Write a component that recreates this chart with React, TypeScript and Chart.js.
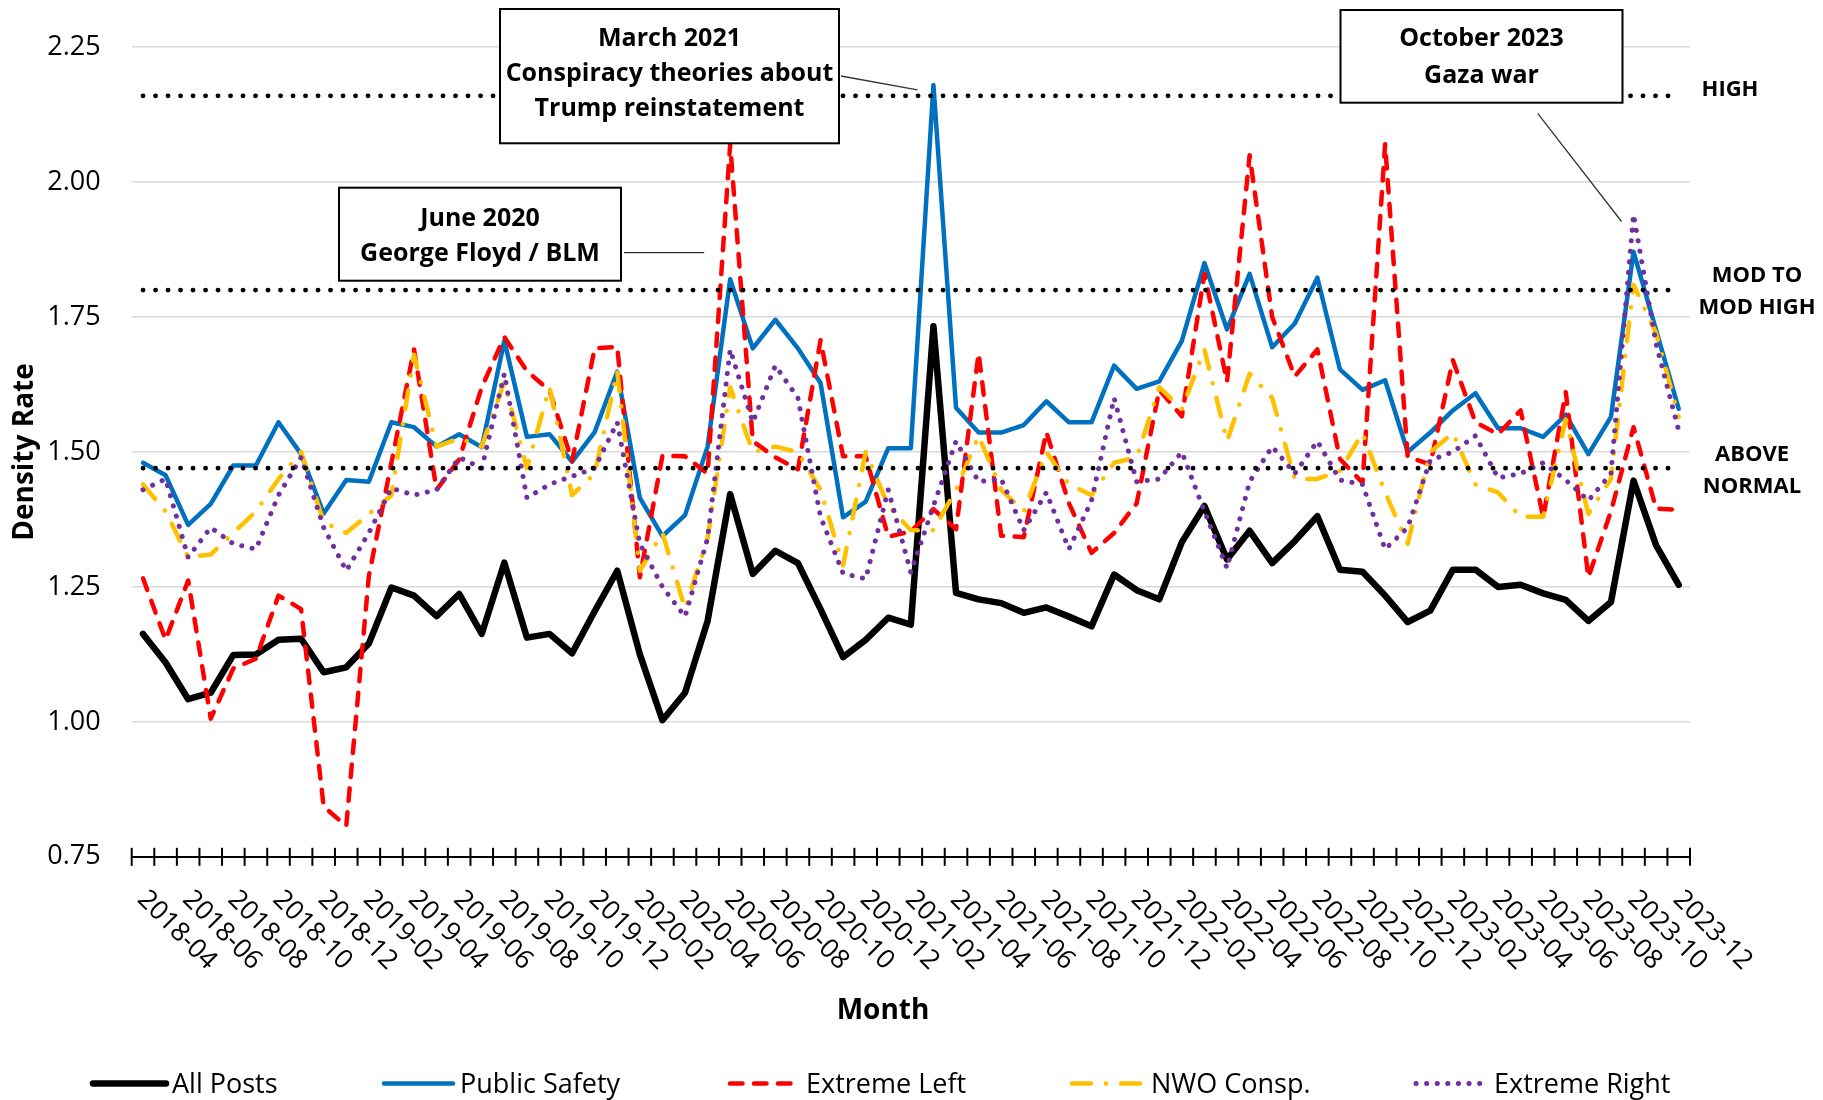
import { useEffect, useRef } from 'react';
import { Chart, registerables } from 'chart.js';

Chart.register(...registerables);

const FONT = "'Open Sans', 'Liberation Sans', sans-serif";

const months = [
  '2018-04', '2018-05', '2018-06', '2018-07', '2018-08', '2018-09', '2018-10', '2018-11', '2018-12',
  '2019-01', '2019-02', '2019-03', '2019-04', '2019-05', '2019-06', '2019-07', '2019-08', '2019-09', '2019-10', '2019-11', '2019-12',
  '2020-01', '2020-02', '2020-03', '2020-04', '2020-05', '2020-06', '2020-07', '2020-08', '2020-09', '2020-10', '2020-11', '2020-12',
  '2021-01', '2021-02', '2021-03', '2021-04', '2021-05', '2021-06', '2021-07', '2021-08', '2021-09', '2021-10', '2021-11', '2021-12',
  '2022-01', '2022-02', '2022-03', '2022-04', '2022-05', '2022-06', '2022-07', '2022-08', '2022-09', '2022-10', '2022-11', '2022-12',
  '2023-01', '2023-02', '2023-03', '2023-04', '2023-05', '2023-06', '2023-07', '2023-08', '2023-09', '2023-10', '2023-11', '2023-12',
];

const allPosts = [
  1.163, 1.11, 1.042, 1.054, 1.124, 1.125, 1.152, 1.154, 1.092, 1.101,
  1.145, 1.249, 1.234, 1.196, 1.237, 1.163, 1.295, 1.156, 1.163, 1.127,
  1.205, 1.28, 1.125, 1.003, 1.054, 1.187, 1.422, 1.274, 1.317, 1.294,
  1.209, 1.12, 1.152, 1.193, 1.18, 1.733, 1.239, 1.227, 1.22, 1.202,
  1.212, 1.195, 1.177, 1.273, 1.244, 1.227, 1.333, 1.4, 1.301, 1.354,
  1.294, 1.335, 1.381, 1.282, 1.278, 1.234, 1.185, 1.206, 1.282, 1.282,
  1.25, 1.254, 1.238, 1.226, 1.187, 1.222, 1.447, 1.327, 1.254,
];

const publicSafety = [
  1.48, 1.457, 1.365, 1.404, 1.475, 1.475, 1.555, 1.496, 1.386, 1.448,
  1.445, 1.555, 1.546, 1.51, 1.533, 1.509, 1.706, 1.528, 1.533, 1.482,
  1.537, 1.649, 1.415, 1.344, 1.383, 1.51, 1.82, 1.692, 1.745, 1.692,
  1.628, 1.379, 1.408, 1.507, 1.507, 2.18, 1.582, 1.536, 1.536, 1.55,
  1.594, 1.555, 1.555, 1.66, 1.617, 1.631, 1.706, 1.85, 1.727, 1.83,
  1.694, 1.738, 1.823, 1.653, 1.615, 1.633, 1.5, 1.536, 1.577, 1.609,
  1.544, 1.544, 1.528, 1.569, 1.496, 1.565, 1.871, 1.726, 1.58,
];

const extremeLeft = [
  1.266, 1.152, 1.262, 1.006, 1.099, 1.117, 1.234, 1.209, 0.843, 0.807,
  1.27, 1.48, 1.69, 1.43, 1.486, 1.62, 1.713, 1.65, 1.614, 1.483,
  1.692, 1.695, 1.268, 1.493, 1.492, 1.46, 2.07, 1.52, 1.49, 1.468,
  1.707, 1.492, 1.492, 1.343, 1.353, 1.394, 1.357, 1.683, 1.345, 1.342,
  1.537, 1.405, 1.313, 1.35, 1.405, 1.615, 1.566, 1.83, 1.63, 2.05,
  1.75, 1.64, 1.69, 1.487, 1.443, 2.07, 1.491, 1.477, 1.67, 1.555,
  1.533, 1.577, 1.379, 1.611, 1.268, 1.39, 1.546, 1.395, 1.393,
];

const nwoConsp = [
  1.44, 1.39, 1.305, 1.31, 1.35, 1.39, 1.45, 1.5, 1.37, 1.35,
  1.385, 1.42, 1.68, 1.51, 1.525, 1.51, 1.63, 1.47, 1.62, 1.42,
  1.46, 1.65, 1.28, 1.35, 1.21, 1.34, 1.62, 1.5, 1.51, 1.5,
  1.43, 1.29, 1.5, 1.4, 1.355, 1.355, 1.43, 1.53, 1.43, 1.39,
  1.5, 1.44, 1.42, 1.48, 1.49, 1.62, 1.58, 1.69, 1.52, 1.645,
  1.6, 1.45, 1.45, 1.465, 1.535, 1.425, 1.33, 1.5, 1.535, 1.44,
  1.425, 1.38, 1.38, 1.56, 1.385, 1.45, 1.81, 1.72, 1.565,
];

const extremeRight = [
  1.43, 1.45, 1.305, 1.36, 1.33, 1.32, 1.42, 1.49, 1.36, 1.28,
  1.35, 1.433, 1.42, 1.43, 1.49, 1.47, 1.645, 1.415, 1.44, 1.455,
  1.47, 1.555, 1.33, 1.25, 1.195, 1.34, 1.69, 1.555, 1.66, 1.6,
  1.38, 1.275, 1.265, 1.43, 1.277, 1.4, 1.52, 1.445, 1.45, 1.355,
  1.425, 1.32, 1.41, 1.6, 1.445, 1.45, 1.5, 1.39, 1.285, 1.445,
  1.51, 1.46, 1.52, 1.448, 1.44, 1.32, 1.36, 1.485, 1.5, 1.53,
  1.452, 1.46, 1.48, 1.448, 1.41, 1.46, 1.94, 1.7, 1.54,
];

const seriesNames = ['All Posts', 'Public Safety', 'Extreme Left', 'NWO Consp.', 'Extreme Right'];

const yMin = 0.75;
const yMax = 2.25;
const yStep = 0.25;

const thresholdValues = [2.16, 1.8, 1.47];
const thresholdLabels = [['HIGH'], ['MOD TO', 'MOD HIGH'], ['ABOVE', 'NORMAL']];

const annotationTexts = [
  ['March 2021', 'Conspiracy theories about', 'Trump reinstatement'],
  ['June 2020', 'George Floyd / BLM'],
  ['October 2023', 'Gaza war'],
];

function capText(ctx: CanvasRenderingContext2D, text: string, x: number, cy: number, size: number, weight: number, align: CanvasTextAlign) {
  ctx.font = `${weight} ${size}px ${FONT}`;
  ctx.textAlign = align;
  ctx.textBaseline = 'alphabetic';
  ctx.fillText(text, x, cy + size * 0.357);
}

const overlayPlugin = {
  id: 'overlay',
  afterDatasetsDraw(chart: any) {
    const { ctx, scales } = chart;
    const x = scales.x;
    const y = scales.y;
    ctx.save();
    ctx.strokeStyle = '#000';
    ctx.lineWidth = 4.8;
    ctx.lineCap = 'round';
    ctx.setLineDash([0.1, 12.4]);
    thresholdValues.forEach((v) => {
      const py = y.getPixelForValue(v);
      ctx.beginPath();
      ctx.moveTo(x.getPixelForValue(0), py);
      ctx.lineTo(x.getPixelForValue(months.length - 1), py);
      ctx.stroke();
    });
    ctx.restore();
  },
  afterDraw(chart: any) {
    const { ctx, chartArea, scales } = chart;
    const x = scales.x;
    const y = scales.y;
    const axisY = chartArea.bottom;
    ctx.save();
    ctx.fillStyle = '#000';

    // crossing tick marks on category boundaries
    ctx.strokeStyle = '#000';
    ctx.lineWidth = 2;
    ctx.setLineDash([]);
    for (let k = 0; k <= months.length; k++) {
      const px = x.getPixelForValue(k - 0.5);
      ctx.beginPath();
      ctx.moveTo(px, axisY - 9);
      ctx.lineTo(px, axisY + 9);
      ctx.stroke();
    }

    // rotated month labels
    const lblSize = 26.5;
    ctx.font = `400 ${lblSize}px ${FONT}`;
    months.forEach((m, i) => {
      if (i % 2 !== 0) return;
      ctx.save();
      ctx.translate(x.getPixelForValue(i), axisY + 37);
      ctx.rotate(Math.PI / 4);
      ctx.textAlign = 'left';
      ctx.textBaseline = 'alphabetic';
      ctx.fillText(m, 0, lblSize * 0.357);
      ctx.restore();
    });

    // axis titles
    ctx.save();
    ctx.translate(23.5, (chartArea.top + chartArea.bottom) / 2);
    ctx.rotate(-Math.PI / 2);
    capText(ctx, 'Density Rate', 0, 0, 28, 700, 'center');
    ctx.restore();
    capText(ctx, 'Month', 883, 1009, 28, 700, 'center');

    // threshold labels
    const labelX = [1730, 1757, 1752];
    thresholdValues.forEach((v, t) => {
      const py = y.getPixelForValue(v);
      const lines = thresholdLabels[t];
      if (lines.length === 1) {
        capText(ctx, lines[0], labelX[t], py - 7.5, 22, 700, 'center');
      } else {
        capText(ctx, lines[0], labelX[t], py - 15.5, 22, 700, 'center');
        capText(ctx, lines[1], labelX[t], py + 16.5, 22, 700, 'center');
      }
    });

    // annotation connectors
    ctx.strokeStyle = '#333';
    ctx.lineWidth = 1.3;
    const pMarch = { x: x.getPixelForValue(35), y: y.getPixelForValue(publicSafety[35]) };
    const pOct = { x: x.getPixelForValue(66), y: y.getPixelForValue(extremeRight[66]) };
    const pJune = { x: x.getPixelForValue(26), y: 252.7 };
    const lines: number[][] = [
      [841, 76, pMarch.x - 16, pMarch.y + 5],
      [624, 252.7, pJune.x - 26, pJune.y],
      [1537.7, 113.3, pOct.x - 12, pOct.y + 7],
    ];
    lines.forEach(([x1, y1, x2, y2]) => {
      ctx.beginPath();
      ctx.moveTo(x1, y1);
      ctx.lineTo(x2, y2);
      ctx.stroke();
    });

    // annotation boxes
    const boxes = [
      { x: 500, y: 9, w: 339, h: 134.3, cys: [36.7, 71.7, 106.7] },
      { x: 339, y: 187.7, w: 282, h: 93, cys: [216.7, 251.7] },
      { x: 1340.5, y: 10, w: 282, h: 92.7, cys: [37.3, 74] },
    ];
    boxes.forEach((b, j) => {
      ctx.fillStyle = '#fff';
      ctx.fillRect(b.x, b.y, b.w, b.h);
      ctx.strokeStyle = '#000';
      ctx.lineWidth = 2;
      ctx.strokeRect(b.x, b.y, b.w, b.h);
      ctx.fillStyle = '#000';
      annotationTexts[j].forEach((t, k) => capText(ctx, t, b.x + b.w / 2, b.cys[k], 25, 700, 'center'));
    });

    // legend
    const legY = 1083.5;
    const legLine = [[93, 166], [384, 453], [730, 794], [1072, 1143], [1416, 1486]];
    const legText = [172, 460, 806, 1151, 1494];
    chart.data.datasets.forEach((ds: any, i: number) => {
      ctx.save();
      ctx.strokeStyle = ds.borderColor;
      ctx.lineWidth = ds.borderWidth;
      ctx.lineCap = ds.borderCapStyle || 'butt';
      ctx.setLineDash(ds.borderDash || []);
      ctx.beginPath();
      ctx.moveTo(legLine[i][0], legY);
      ctx.lineTo(legLine[i][1], legY);
      ctx.stroke();
      ctx.restore();
      ctx.fillStyle = '#000';
      capText(ctx, ds.label, legText[i], legY, 27, 400, 'left');
    });

    ctx.restore();
  },
};

export default function App() {
  const canvasRef = useRef<HTMLCanvasElement | null>(null);

  useEffect(() => {
    const canvas = canvasRef.current;
    if (!canvas) return;
    Chart.defaults.font.family = FONT;
    const chart = new Chart(canvas, {
      type: 'line',
      data: {
        labels: months,
        datasets: [
          {
            label: seriesNames[0], data: allPosts, borderColor: '#000000', borderWidth: 6.5,
            borderCapStyle: 'round', borderJoinStyle: 'round', pointRadius: 0, tension: 0, order: 5,
          },
          {
            label: seriesNames[1], data: publicSafety, borderColor: '#0070C0', borderWidth: 4.5,
            borderCapStyle: 'round', borderJoinStyle: 'round', pointRadius: 0, tension: 0, order: 4,
          },
          {
            label: seriesNames[2], data: extremeLeft, borderColor: '#FF0000', borderWidth: 4.5,
            borderDash: [12.5, 11.5], borderCapStyle: 'round', borderJoinStyle: 'round', pointRadius: 0, tension: 0, order: 3,
          },
          {
            label: seriesNames[3], data: nwoConsp, borderColor: '#FFC000', borderWidth: 4.5,
            borderDash: [19, 15, 0.1, 15], borderCapStyle: 'round', borderJoinStyle: 'round', pointRadius: 0, tension: 0, order: 2,
          },
          {
            label: seriesNames[4], data: extremeRight, borderColor: '#7030A0', borderWidth: 5,
            borderDash: [0.1, 10.5], borderCapStyle: 'round', borderJoinStyle: 'round', pointRadius: 0, tension: 0, order: 1,
          },
        ] as any,
      },
      options: {
        responsive: false,
        animation: false,
        devicePixelRatio: 1,
        events: [],
        layout: { padding: { left: 0, top: 47.2, right: 133, bottom: 223.2 } },
        plugins: { legend: { display: false }, tooltip: { enabled: false }, title: { display: false } },
        scales: {
          x: {
            type: 'category',
            offset: true,
            grid: { display: false },
            ticks: { display: false },
            border: { display: true, color: '#000', width: 2 },
            afterFit: (scale: any) => { scale.height = 20; },
          },
          y: {
            min: yMin,
            max: yMax,
            grid: {
              drawTicks: false,
              lineWidth: 1.5,
              color: (c: any) => (c.tick && Math.abs(c.tick.value - yMin) < 1e-6 ? 'rgba(0,0,0,0)' : '#d9d9d9'),
            },
            border: { display: false },
            ticks: {
              stepSize: yStep,
              padding: 31,
              color: '#000',
              font: { size: 27, family: FONT },
              callback: (v: any) => Number(v).toFixed(2),
            },
            afterFit: (scale: any) => { scale.width = 131.7; },
          },
        },
      } as any,
      plugins: [overlayPlugin],
    });
    return () => chart.destroy();
  }, []);

  return (
    <div style={{ position: 'absolute', left: 0, top: 0, width: 1823, height: 1100, background: '#fff' }}>
      <canvas ref={canvasRef} width={1823} height={1100} style={{ display: 'block' }} />
    </div>
  );
}
